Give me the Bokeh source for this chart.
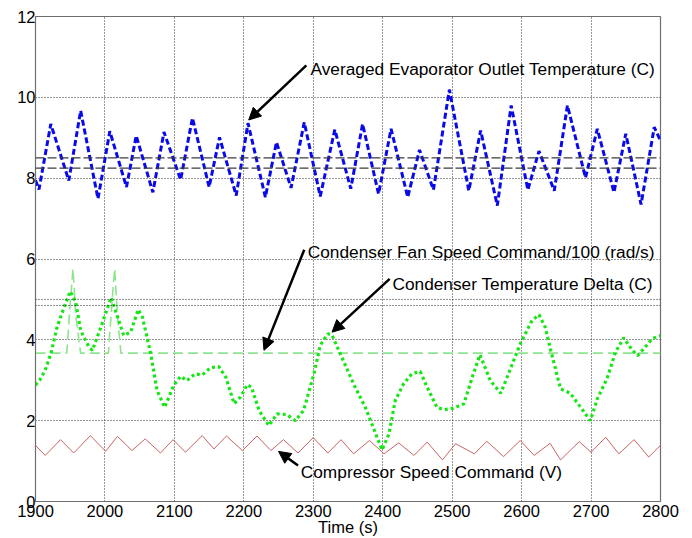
from bokeh.plotting import figure
from bokeh.models import Range1d, FixedTicker, Span, Arrow, NormalHead, Label
from bokeh.embed import file_html
from bokeh.resources import INLINE

FONT = "Liberation Sans"

# ---------------- data ----------------
x_ticks = [1900, 2000, 2100, 2200, 2300, 2400, 2500, 2600, 2700, 2800]
y_ticks = [0, 2, 4, 6, 8, 10, 12]

# Averaged Evaporator Outlet Temperature (C)
evap_t = [1900, 1905, 1922, 1948, 1965, 1990, 2007, 2031, 2045, 2069, 2085, 2109,
          2126, 2150, 2165, 2189, 2206, 2231, 2247, 2268, 2287, 2310, 2331, 2354,
          2371, 2394, 2412, 2436, 2453, 2473, 2496, 2524, 2541, 2565, 2585, 2609,
          2625, 2647, 2666, 2692, 2709, 2733, 2750, 2772, 2791, 2800]
evap_v = [7.95, 7.72, 9.34, 7.94, 9.67, 7.49, 9.16, 7.78, 9.05, 7.65, 9.14, 7.96,
          9.49, 7.78, 9.01, 7.57, 9.36, 7.53, 8.89, 7.76, 9.38, 7.55, 9.20, 7.74,
          9.34, 7.61, 9.22, 7.53, 8.70, 7.71, 10.19, 7.69, 9.18, 7.32, 9.80, 7.71,
          8.67, 7.69, 9.80, 8.01, 9.22, 7.65, 9.10, 7.35, 9.26, 8.93]

# Condenser Fan Speed Command/100 (rad/s)
fan_t = [1900, 1945, 1950, 1954, 1958, 1965, 2005, 2010, 2014, 2018, 2023, 2800]
fan_v = [3.67, 3.67, 4.9, 5.76, 4.6, 3.67, 3.67, 4.9, 5.76, 4.6, 3.67, 3.67]

# Condenser Temperature Delta (C)
cond_t = [1900, 1906, 1914, 1922, 1931, 1941, 1950, 1958, 1965, 1977, 1982, 1994,
          2009, 2015, 2027, 2037, 2048, 2054, 2066, 2075, 2086, 2099, 2109, 2118,
          2130, 2140, 2152, 2164, 2174, 2186, 2195, 2205, 2211, 2222, 2236, 2248,
          2262, 2274, 2286, 2301, 2310, 2321, 2327, 2339, 2358, 2375, 2390, 2399,
          2409, 2418, 2430, 2442, 2454, 2464, 2478, 2488, 2502, 2517, 2529, 2540,
          2555, 2570, 2582, 2598, 2615, 2625, 2634, 2642, 2656, 2670, 2685, 2699,
          2709, 2723, 2735, 2747, 2759, 2767, 2776, 2788, 2800]
cond_v = [2.88, 3.00, 3.25, 3.65, 4.31, 4.80, 5.20, 4.93, 4.23, 3.82, 3.74, 4.31,
          5.05, 4.73, 4.11, 4.19, 4.75, 4.56, 3.65, 2.75, 2.33, 2.87, 3.10, 2.99,
          3.16, 3.13, 3.31, 3.34, 3.08, 2.42, 2.58, 2.89, 2.83, 2.25, 1.88, 2.17,
          2.15, 2.00, 2.25, 3.16, 3.86, 4.15, 4.12, 3.65, 2.91, 2.33, 1.67, 1.28,
          1.67, 2.50, 2.91, 3.16, 3.22, 2.83, 2.33, 2.27, 2.31, 2.42, 3.08, 3.63,
          2.99, 2.68, 3.20, 3.90, 4.48, 4.62, 4.31, 3.74, 2.79, 2.68, 2.33, 2.00,
          2.54, 3.04, 3.69, 4.05, 3.75, 3.61, 3.78, 4.03, 4.10]

# Compressor Speed Command (V)
comp_t = [1900, 1914, 1936, 1955, 1979, 2001, 2018, 2039, 2058, 2080, 2098, 2116,
          2140, 2157, 2175, 2198, 2219, 2239, 2257, 2278, 2300, 2321, 2340, 2358,
          2381, 2402, 2423, 2445, 2464, 2486, 2505, 2532, 2550, 2574, 2598, 2618,
          2641, 2656, 2683, 2700, 2721, 2740, 2762, 2783, 2800]
comp_v = [1.39, 1.14, 1.53, 1.20, 1.63, 1.24, 1.61, 1.26, 1.55, 1.20, 1.53, 1.22,
          1.63, 1.30, 1.62, 1.26, 1.62, 1.26, 1.53, 1.20, 1.58, 1.20, 1.53, 1.18,
          1.51, 1.18, 1.45, 1.14, 1.47, 1.03, 1.43, 1.18, 1.49, 1.11, 1.51, 1.14,
          1.44, 1.03, 1.48, 1.22, 1.59, 1.18, 1.53, 1.10, 1.39]

evap_ref_levels = [8.5, 8.25]
cond_ref_levels = [5.0, 4.85]

x_title = "Time (s)"
label_texts = ["Averaged Evaporator Outlet Temperature (C)",
               "Condenser Fan Speed Command/100 (rad/s)",
               "Condenser Temperature Delta (C)",
               "Compressor Speed Command (V)"]
label_x = [2296, 2292, 2414, 2282]
label_y = [10.70, 6.17, 5.39, 0.725]
arrow_tail_x = [2290, 2287, 2410, 2278]
arrow_tail_y = [10.79, 6.23, 5.51, 0.89]
arrow_tip_x = [2207, 2229, 2327, 2250]
arrow_tip_y = [9.44, 3.74, 4.19, 1.24]

# ---------------- figure ----------------
p = figure(width=692, height=538, output_backend="svg", toolbar_location=None,
           x_range=Range1d(1900, 2800), y_range=Range1d(0, 12),
           min_border_left=35, min_border_right=32, min_border_top=16, min_border_bottom=37)
p.background_fill_color = "white"
p.border_fill_color = "white"
p.outline_line_color = "#6e6e6e"
p.outline_line_width = 1.2

p.xaxis.ticker = FixedTicker(ticks=x_ticks)
p.yaxis.ticker = FixedTicker(ticks=y_ticks)
for ax in (p.xaxis, p.yaxis):
    ax.axis_line_color = "#6e6e6e"
    ax.major_tick_in = 0
    ax.major_tick_out = 0
    ax.minor_tick_in = 0
    ax.minor_tick_out = 0
    ax.major_label_text_font = FONT
    ax.major_label_text_font_size = "16.5px"
    ax.major_label_text_color = "black"
p.xaxis.major_label_standoff = 3
p.yaxis.major_label_standoff = 0

p.xaxis.axis_label = x_title
p.xaxis.axis_label_text_font = FONT
p.xaxis.axis_label_text_font_size = "16.5px"
p.xaxis.axis_label_text_font_style = "normal"
p.xaxis.axis_label_text_color = "black"
p.xaxis.axis_label_standoff = -2

p.grid.grid_line_color = "#303030"
p.grid.grid_line_dash = "1 2"
p.grid.grid_line_width = 1

for lv in evap_ref_levels:
    p.add_layout(Span(location=lv, dimension="width", line_color="#3c3c3c",
                      line_width=1.2, line_dash="9 3"))
for lv in cond_ref_levels:
    p.add_layout(Span(location=lv, dimension="width", line_color="#202020",
                      line_width=1, line_dash="1 2"))

p.line(fan_t, fan_v, line_color="#8fe48f", line_width=1.6, line_dash="10 5")
p.line(cond_t, cond_v, line_color="#16e616", line_width=3.2, line_dash="3 3")
p.line(comp_t, comp_v, line_color="#c86464", line_width=1)
p.line(evap_t, evap_v, line_color="#0a0ae8", line_width=3, line_dash="6 3")

for i in range(len(label_texts)):
    p.add_layout(Arrow(end=NormalHead(size=12, fill_color="black", line_color="black"),
                       x_start=arrow_tail_x[i], y_start=arrow_tail_y[i],
                       x_end=arrow_tip_x[i], y_end=arrow_tip_y[i],
                       line_color="black", line_width=2.5))
    p.add_layout(Label(x=label_x[i], y=label_y[i], text=label_texts[i],
                       text_font=FONT, text_font_size="17.3px", text_color="black",
                       text_baseline="alphabetic", text_align="left"))

open("out.html", "w").write(file_html(p, INLINE))
